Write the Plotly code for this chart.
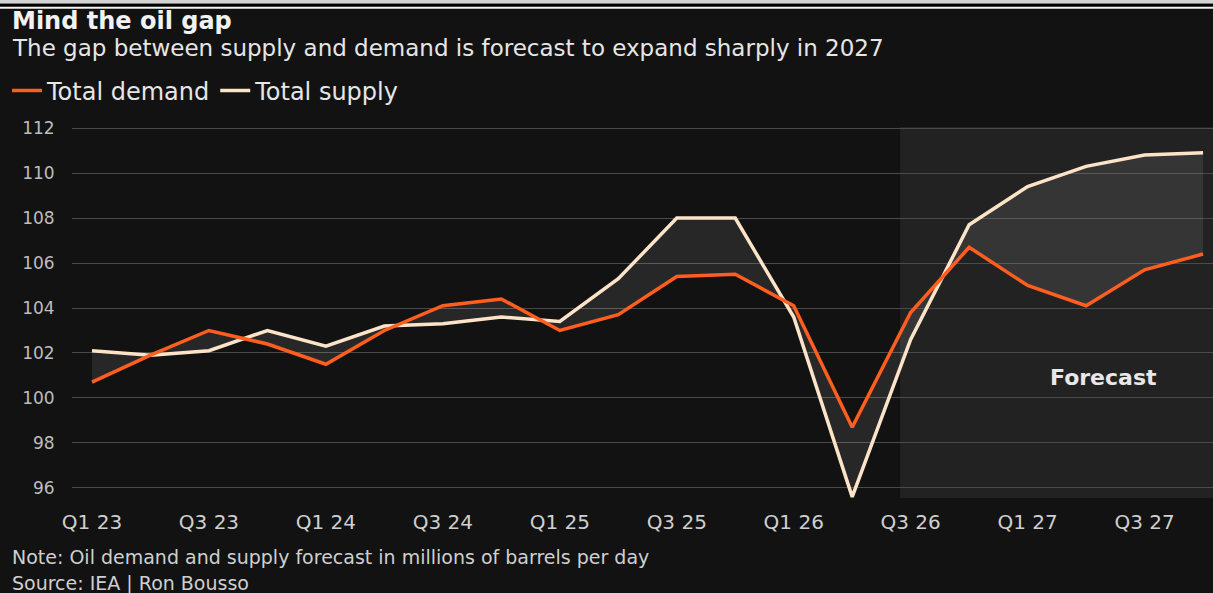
import plotly.graph_objects as go

quarters = ["Q1 23","Q2 23","Q3 23","Q4 23","Q1 24","Q2 24","Q3 24","Q4 24",
            "Q1 25","Q2 25","Q3 25","Q4 25","Q1 26","Q2 26","Q3 26","Q4 26",
            "Q1 27","Q2 27","Q3 27","Q4 27"]
demand = [100.7,101.9,103.0,102.4,101.5,103.0,104.1,104.4,103.0,103.7,105.4,105.5,
          104.1,98.7,103.8,106.7,105.0,104.1,105.7,106.4]
supply = [102.1,101.9,102.1,103.0,102.3,103.2,103.3,103.6,103.4,105.3,108.0,108.0,
          103.6,95.6,102.6,107.7,109.4,110.3,110.8,110.9]
y_ticks = [96,98,100,102,104,106,108,110,112]
x_tick_labels = quarters[::2]
forecast_start = "Q3 26"

BG = "#121212"
ORANGE = "#ff5e1f"
PEACH = "#fde3c8"
FONT = "DejaVu Sans"

idx = list(range(len(quarters)))
fig = go.Figure()

# fill between lines
fig.add_trace(go.Scatter(x=idx, y=demand, mode="lines", line=dict(width=0),
                         showlegend=False, hoverinfo="skip"))
fig.add_trace(go.Scatter(x=idx, y=supply, mode="lines", line=dict(width=0),
                         fill="tonexty", fillcolor="rgba(255,255,255,0.09)",
                         showlegend=False, hoverinfo="skip"))
fig.add_trace(go.Scatter(x=idx, y=supply, mode="lines", name="Total supply",
                         line=dict(color=PEACH, width=3.5)))
fig.add_trace(go.Scatter(x=idx, y=demand, mode="lines", name="Total demand",
                         line=dict(color=ORANGE, width=3.5)))

fs = quarters.index(forecast_start) - 0.18
fig.add_shape(type="rect", xref="x", yref="paper", x0=fs, x1=19.5, y0=0, y1=1,
              fillcolor="rgba(255,255,255,0.07)", line=dict(width=0), layer="below")
fig.add_annotation(x=17.3, y=100.9, xref="x", yref="y", text="<b>Forecast</b>",
                   showarrow=False, font=dict(family=FONT, size=22, color="#e8e8e8"))

fig.update_layout(
    width=1213, height=593,
    paper_bgcolor=BG, plot_bgcolor=BG,
    margin=dict(l=72, r=0, t=127, b=95, autoexpand=False),
    font=dict(family=FONT, color="#cfcfcf"),
    showlegend=True,
    legend=dict(orientation="h", x=7/1213, xanchor="left", xref="container",
                y=1 - 91/593, yanchor="middle", yref="container",
                traceorder="reversed",
                font=dict(size=24, color="#e6e6e6"), bgcolor="rgba(0,0,0,0)",
                itemwidth=30),
    xaxis=dict(range=[-0.342, 19.17], tickvals=idx[::2], ticktext=x_tick_labels,
               showgrid=False, zeroline=False, showline=False,
               ticks="outside", ticklen=6, tickcolor=BG,
               tickfont=dict(size=20, color="#cfcfcf")),
    yaxis=dict(range=[95.55, 112.05], tickvals=y_ticks, showgrid=True,
               gridcolor="#4a4a4a", gridwidth=1, zeroline=False, showline=False,
               ticks="outside", ticklen=13, tickcolor=BG,
               tickfont=dict(size=17, color="#bdbdbd")),
)

# header bands
fig.add_shape(type="rect", xref="paper", yref="paper", x0=-0.1, x1=1.01,
              y0=1 + 123/370, y1=1 + 128/370, fillcolor="#d4d4d4", line=dict(width=0))
fig.add_shape(type="rect", xref="paper", yref="paper", x0=-0.1, x1=1.01,
              y0=1 + 120/370, y1=1 + 123/370, fillcolor="#000000", line=dict(width=0))
fig.add_shape(type="rect", xref="paper", yref="paper", x0=-0.1, x1=1.01,
              y0=1 + 118/370, y1=1 + 120/370, fillcolor="#f2f2f2", line=dict(width=0))

LX = (10 - 72) / 1141
fig.add_annotation(xref="paper", yref="paper", x=LX, y=1 + (127-21)/370,
                   xanchor="left", yanchor="middle", showarrow=False,
                   text="<b>Mind the oil gap</b>",
                   font=dict(family=FONT, size=24, color="#f2f2f2"))
fig.add_annotation(xref="paper", yref="paper", x=LX, y=1 + (127-48)/370,
                   xanchor="left", yanchor="middle", showarrow=False,
                   text="The gap between supply and demand is forecast to expand sharply in 2027",
                   font=dict(family=FONT, size=23, color="#e6e6e6"))
fig.add_annotation(xref="paper", yref="paper", x=LX, y=-(557-498)/370,
                   xanchor="left", yanchor="middle", showarrow=False,
                   text="Note: Oil demand and supply forecast in millions of barrels per day",
                   font=dict(family=FONT, size=19, color="#cfcfcf"))
fig.add_annotation(xref="paper", yref="paper", x=LX, y=-(583-498)/370,
                   xanchor="left", yanchor="middle", showarrow=False,
                   text="Source: IEA | Ron Bousso",
                   font=dict(family=FONT, size=19, color="#cfcfcf"))

fig.write_html("out.html", config={"displayModeBar": False},
               post_script="document.body.style.margin='0';document.body.style.background='#121212';")
